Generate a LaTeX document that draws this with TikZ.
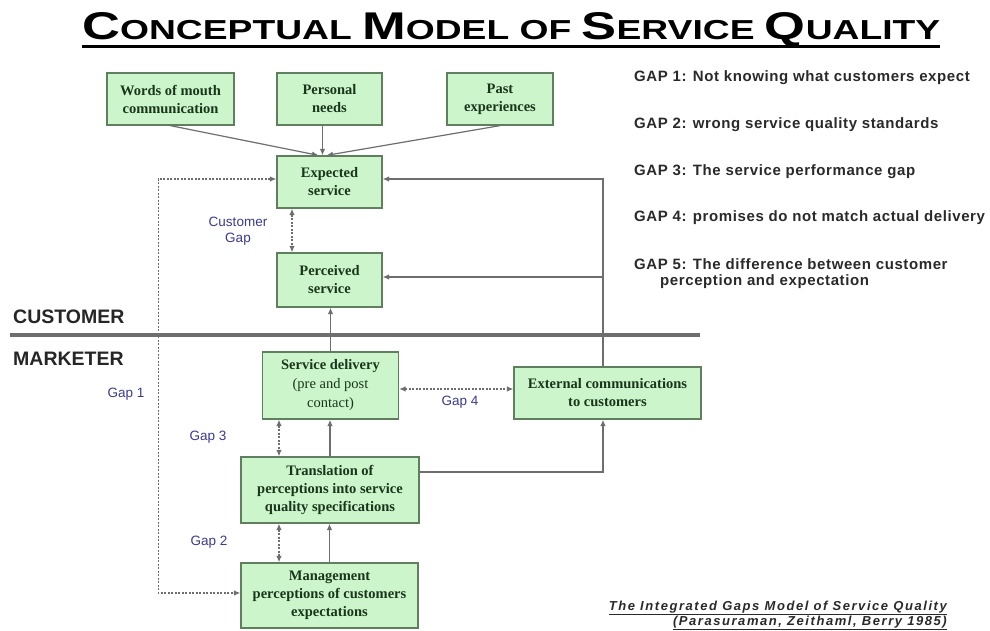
\documentclass[tikz,border=0pt]{standalone}
\usepackage{fontspec}
\usepackage{graphicx}
\setmainfont{Liberation Serif}
\setsansfont{Liberation Sans}
\newfontfamily\listfont{Liberation Sans}[LetterSpace=4]
\newfontfamily\footfont{Liberation Sans}[LetterSpace=12]
\usetikzlibrary{arrows.meta,calc}
\definecolor{boxfill}{HTML}{CCF5CC}
\definecolor{boxline}{HTML}{5F7F5F}
\definecolor{boxtext}{HTML}{1A361A}
\definecolor{linegray}{HTML}{6E6E6E}
\definecolor{gapblue}{HTML}{3A3A96}
\definecolor{listgray}{HTML}{2A2A2A}
\begin{document}
\begin{tikzpicture}[x=1pt,y=-1pt,
  box/.style={draw=boxline, line width=1.3pt, fill=boxfill, text=boxtext,
    font=\fontsize{14.5}{18}\selectfont\bfseries, align=center, inner sep=0pt},
  arr/.style={draw=linegray, line width=1.2pt, -{Latex[length=6.5pt,width=5.5pt]}},
  darr/.style={draw=linegray, line width=1.2pt, dash pattern=on 2pt off 1.5pt,
    {Latex[length=6.5pt,width=5.5pt]}-{Latex[length=6.5pt,width=5.5pt]}},
  gaplbl/.style={text=gapblue, font=\sffamily\fontsize{13.5}{16}\selectfont, inner sep=0pt},
  listtxt/.style={anchor=west, text=listgray, font=\listfont\bfseries\fontsize{15}{17}\selectfont, inner sep=0pt},
  sidelbl/.style={anchor=west, text=black!85, font=\sffamily\bfseries\fontsize{19.5}{20}\selectfont, inner sep=0pt},
  foottxt/.style={anchor=base east, text=listgray, font=\footfont\bfseries\itshape\fontsize{13}{15}\selectfont, inner sep=0pt},
]
\useasboundingbox[fill=white] (0,0) rectangle (990,631);

% title
\node[anchor=base west, inner sep=0pt] (title) at (82,40) {\resizebox{858pt}{27pt}{\sffamily\bfseries
  \fontsize{31}{31}\selectfont C\fontsize{22}{22}\selectfont ONCEPTUAL
  \fontsize{31}{31}\selectfont M\fontsize{22}{22}\selectfont ODEL OF
  \fontsize{31}{31}\selectfont S\fontsize{22}{22}\selectfont ERVICE
  \fontsize{31}{31}\selectfont Q\fontsize{22}{22}\selectfont UALITY}};
\draw[line width=3pt] ([yshift=-7pt]title.base west) -- ([yshift=-7pt]title.base east);

% boxes
\node[box, minimum width=127pt, minimum height=52pt] (words) at (170.5,99) {Words of mouth\\communication};
\node[box, minimum width=105pt, minimum height=52pt] (personal) at (329.5,99) {Personal\\needs};
\node[box, minimum width=106pt, minimum height=52pt] (past) at (500,99) {Past\\experiences};
\node[box, minimum width=105pt, minimum height=52pt] (expected) at (329.5,182) {Expected\\service};
\node[box, minimum width=105pt, minimum height=54pt] (perceived) at (329.5,280) {Perceived\\service};
\node[box, minimum width=136pt, minimum height=67pt, font=\fontsize{14.5}{19}\selectfont] (delivery) at (330.5,385.5) {\textbf{Service delivery}\\(pre and post\\contact)};
\node[box, minimum width=187pt, minimum height=52pt] (external) at (607.5,393) {External communications\\to customers};
\node[box, minimum width=178pt, minimum height=66pt] (translation) at (330,490) {Translation of\\perceptions into service\\quality specifications};
\node[box, minimum width=177pt, minimum height=65pt] (management) at (329.5,595.5) {Management\\perceptions of customers\\expectations};

% separator and side labels
\node[sidelbl] (cust) at (13,317) {CUSTOMER};
\node[sidelbl] (mark) at (13,359) {MARKETER};
\draw[line width=4pt, draw=linegray] (10,335) -- (700,335);

% inputs to expected service
\draw[arr] (words.south) -- ([xshift=-11pt]expected.north);
\draw[arr] ([xshift=-7pt]personal.south) -- ([xshift=-7pt]expected.north);
\draw[arr] (past.south) -- ([xshift=-3pt]expected.north);

% customer gap
\draw[darr] ([xshift=-37.5pt]expected.south) -- ([xshift=-37.5pt]perceived.north);

% gap 1 loop
\draw[darr] ([yshift=3pt]expected.west) -- ++(-118,0) |- ([yshift=2.5pt]management.west);

% external communications feedback
\coordinate (exn) at ([xshift=-4.5pt]external.north);
\coordinate (exs) at ([xshift=-4.5pt]external.south);
\coordinate (ee) at ([yshift=3pt]expected.east);
\coordinate (pe) at ([yshift=3pt]perceived.east);
\draw[arr] (exn) |- (ee);
\draw[arr] (exn |- pe) -- (pe);

% delivery to perceived
\draw[arr] (delivery.north) -- (delivery.north |- perceived.south);

% gap 4
\coordinate (de) at ([yshift=-3.5pt]delivery.east);
\draw[darr] (de) -- (de -| external.west);

% gap 3
\coordinate (ds) at ([xshift=-51.5pt]delivery.south);
\draw[darr] (ds) -- (ds |- translation.north);
\draw[arr] (translation.north) -- (translation.north |- delivery.south);

% translation to external
\draw[arr] ([yshift=18pt]translation.east) -| (exs);

% gap 2
\coordinate (ts) at ([xshift=-51pt]translation.south);
\draw[darr] (ts) -- (ts |- management.north);
\draw[arr] (management.north) -- (management.north |- translation.south);

% gap labels
\node[gaplbl, align=center] (cgap) at (238,231) {Customer\\Gap};
\node[gaplbl] (gap1) at (126,394) {Gap 1};
\node[gaplbl] (gap3) at (208,437) {Gap 3};
\node[gaplbl] (gap2) at (209,542) {Gap 2};
\node[gaplbl] (gap4) at (460,402) {Gap 4};

% gap list
\node[listtxt] (l1) at (634,78) {GAP 1: Not knowing what customers expect};
\node[listtxt] (l2) at (634,125) {GAP 2: wrong service quality standards};
\node[listtxt] (l3) at (634,172) {GAP 3: The service performance gap};
\node[listtxt] (l4) at (634,218) {GAP 4: promises do not match actual delivery};
\node[listtxt] (l5) at (634,264) {GAP 5: The difference between customer};
\node[listtxt] (l5b) at (660,282) {perception and expectation};

% footnote
\node[foottxt] (f1) at (947,610) {\underline{The Integrated Gaps Model of Service Quality}};
\node[foottxt] (f2) at (947,625) {\underline{(Parasuraman, Zeithaml, Berry 1985)}};
\end{tikzpicture}
\end{document}
